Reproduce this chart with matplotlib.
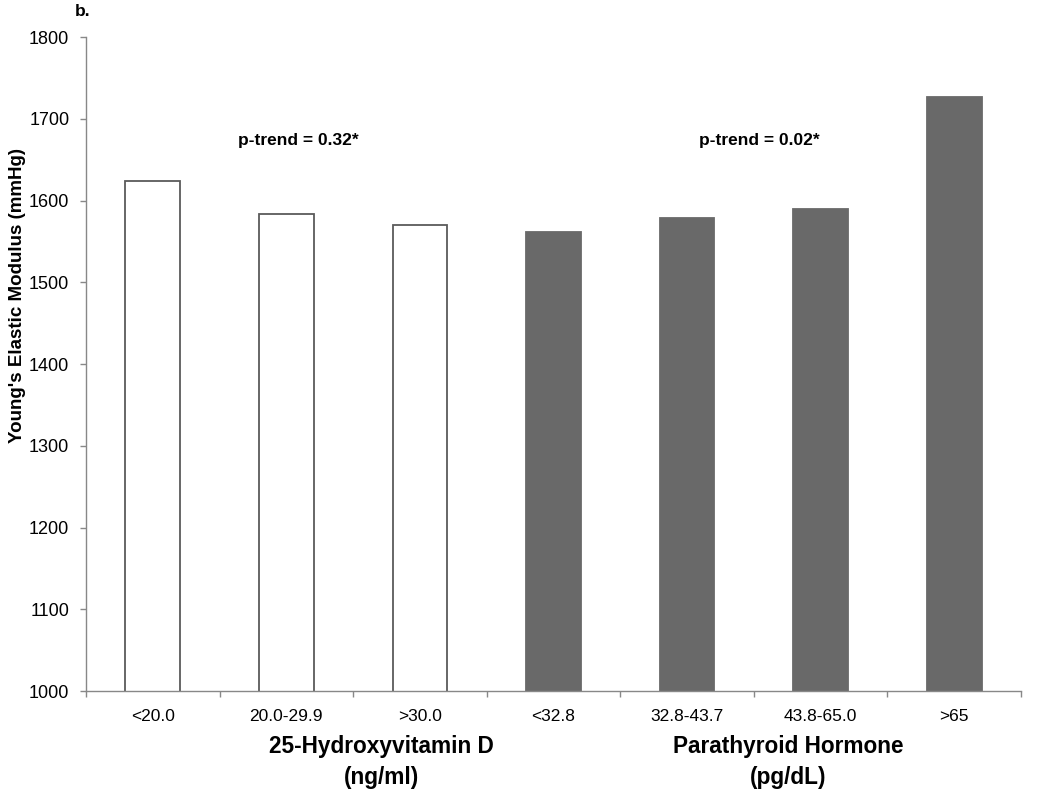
import matplotlib
matplotlib.use("Agg")
import matplotlib.pyplot as plt
import numpy as np

plt.rcParams['font.family'] = ['Liberation Sans', 'DejaVu Sans']

# Data
categories = ['<20.0', '20.0-29.9', '>30.0', '<32.8', '32.8-43.7', '43.8-65.0', '>65']
modulus = [1624, 1584, 1570, 1561, 1578, 1589, 1727]
is_pth = [False, False, False, True, True, True, True]
trend_labels = ['p-trend = 0.32*', 'p-trend = 0.02*']
group_titles = ['25-Hydroxyvitamin D', 'Parathyroid Hormone']
group_units = ['(ng/ml)', '(pg/dL)']

fig = plt.figure(figsize=(10.5, 7.89), dpi=100)
ax = fig.add_axes([0.0819, 0.1242, 0.8905, 0.8289])

x = np.arange(len(categories))
face = ['#696969' if p else 'white' for p in is_pth]
edge = ['#696969' if p else '#5a5a5a' for p in is_pth]
ax.bar(x, modulus, width=0.41, color=face, edgecolor=edge, linewidth=1.3, zorder=2)

ax.set_ylim(1000, 1800)
ax.set_xlim(-0.5, len(categories) - 0.5)
ax.set_yticks(np.arange(1000, 1801, 100))
ax.tick_params(axis='y', length=4, width=1, color='#888888', pad=8, labelsize=13)

# boundaries get tick marks, labels sit at bar centres
ax.set_xticks(np.arange(-0.5, len(categories), 1.0))
ax.set_xticklabels([])
ax.set_xticks(x, minor=True)
ax.set_xticklabels(categories, minor=True)
ax.tick_params(axis='x', which='major', length=4, width=1, color='#888888')
ax.tick_params(axis='x', which='minor', length=0, pad=13, labelsize=12.5)

for s in ['top', 'right']:
    ax.spines[s].set_visible(False)
for s in ['left', 'bottom']:
    ax.spines[s].set_color('#888888')
    ax.spines[s].set_linewidth(1)

ax.set_ylabel("Young's Elastic Modulus (mmHg)", fontsize=13.5, fontweight='bold')
ax.yaxis.set_label_coords(-0.064, 0.604)

# p-trend annotations
ax.text(0.636, 1674, trend_labels[0], fontsize=12.5, fontweight='bold', va='center', ha='left')
ax.text(4.09, 1674, trend_labels[1], fontsize=12.5, fontweight='bold', va='center', ha='left')

# group titles under the axis
trans = ax.get_xaxis_transform()
for gx, title, unit in zip([1.71, 4.76], group_titles, group_units):
    ax.text(gx, -0.0856, title, transform=trans, ha='center', va='center',
            fontsize=16.3, fontweight='bold')
    ax.text(gx, -0.1315, unit, transform=trans, ha='center', va='center',
            fontsize=16.3, fontweight='bold')

fig.text(0.0714, 0.985, 'b.', fontsize=12.5, fontweight='bold', va='center', ha='left')

fig.savefig('out.png', dpi=100)
